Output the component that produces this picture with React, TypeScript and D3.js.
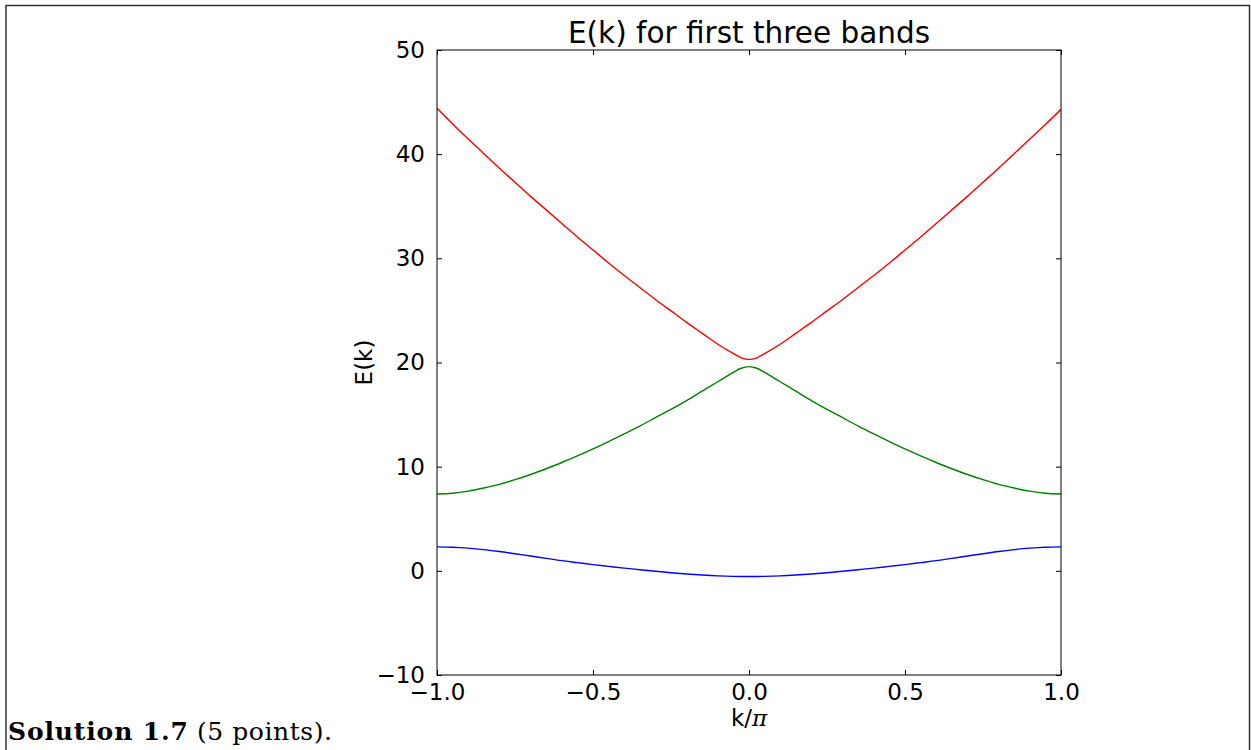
import * as d3 from "d3";
import { useEffect, useRef } from "react";

// k/pi sample positions (denser near the gap at k = 0)
const kValues = [
  -1, -0.95, -0.9, -0.85, -0.8, -0.75, -0.7, -0.65, -0.6, -0.55, -0.5,
  -0.45, -0.4, -0.35, -0.3, -0.25, -0.2, -0.15, -0.1, -0.05, -0.025, 0,
  0.025, 0.05, 0.1, 0.15, 0.2, 0.25, 0.3, 0.35, 0.4, 0.45, 0.5,
  0.55, 0.6, 0.65, 0.7, 0.75, 0.8, 0.85, 0.9, 0.95, 1,
];

// first band (blue)
const band1 = [
  2.3, 2.27, 2.18, 2.04, 1.86, 1.64, 1.42, 1.2, 0.98, 0.79, 0.6,
  0.43, 0.26, 0.11, -0.04, -0.18, -0.3, -0.4, -0.48, -0.53, -0.545, -0.55,
  -0.545, -0.53, -0.48, -0.4, -0.3, -0.18, -0.04, 0.11, 0.26, 0.43, 0.6,
  0.79, 0.98, 1.2, 1.42, 1.64, 1.86, 2.04, 2.18, 2.27, 2.3,
];

// second band (green)
const band2 = [
  7.38, 7.45, 7.65, 7.95, 8.3, 8.75, 9.25, 9.8, 10.4, 11.03, 11.7,
  12.4, 13.15, 13.9, 14.7, 15.5, 16.35, 17.25, 18.15, 19.05, 19.45, 19.6,
  19.45, 19.05, 18.15, 17.25, 16.35, 15.5, 14.7, 13.9, 13.15, 12.4, 11.7,
  11.03, 10.4, 9.8, 9.25, 8.75, 8.3, 7.95, 7.65, 7.45, 7.38,
];

// third band (red)
const band3 = [
  44.4, 42.9, 41.45, 40.05, 38.65, 37.3, 35.95, 34.65, 33.35, 32.05, 30.8,
  29.55, 28.35, 27.2, 26.05, 24.95, 23.85, 22.8, 21.75, 20.85, 20.45, 20.3,
  20.45, 20.85, 21.75, 22.8, 23.85, 24.95, 26.05, 27.2, 28.35, 29.55, 30.8,
  32.05, 33.35, 34.65, 35.95, 37.3, 38.65, 40.05, 41.45, 42.85, 44.3,
];

const bandColors = ["#0000ff", "#008000", "#ff0000"];
const xTicks = [-1, -0.5, 0, 0.5, 1];
const yTicks = [-10, 0, 10, 20, 30, 40, 50];

const W = 1251;
const H = 750;

const App = () => {
  const ref = useRef<SVGSVGElement>(null);

  useEffect(() => {
    const margin = { top: 50, right: 190, bottom: 75, left: 437 };
    const width = W - margin.left - margin.right;
    const height = H - margin.top - margin.bottom;

    const svg = d3.select(ref.current);
    svg.selectAll("*").remove();

    // page frame
    svg
      .append("path")
      .attr("d", `M6,${H + 2}V5.5H1249.5V${H + 2}`)
      .attr("fill", "none")
      .attr("stroke", "#333")
      .attr("stroke-width", 1.5);

    const g = svg.append("g").attr("transform", `translate(${margin.left},${margin.top})`);

    const x = d3.scaleLinear().domain([-1, 1]).range([0, width]);
    const y = d3.scaleLinear().domain([-10, 50]).range([height, 0]);

    const font = "'DejaVu Sans', sans-serif";

    // bands
    const bands = [band1, band2, band3];
    bands.forEach((band, i) => {
      const line = d3
        .line<number>()
        .x((_, j) => x(kValues[j]))
        .y((d) => y(d))
        .curve(d3.curveMonotoneX);
      g.append("path")
        .attr("d", line(band))
        .attr("fill", "none")
        .attr("stroke", bandColors[i])
        .attr("stroke-width", 1.4);
    });

    // axes with inward ticks
    const styleAxis = (sel: any) => {
      sel.select(".domain").remove();
      sel.selectAll(".tick line").attr("stroke", "#000").attr("stroke-width", 1);
      sel.selectAll("text").attr("font-family", font).attr("font-size", 23).attr("fill", "#000");
    };

    g.append("g")
      .attr("transform", `translate(0,${height})`)
      .call(d3.axisBottom(x).tickValues(xTicks).tickFormat(d3.format(".1f")).tickSize(-5).tickPadding(9))
      .call(styleAxis);
    g.append("g")
      .call(d3.axisTop(x).tickValues(xTicks).tickFormat(() => "").tickSize(-5))
      .call(styleAxis);
    g.append("g")
      .call(d3.axisLeft(y).tickValues(yTicks).tickFormat(d3.format("d")).tickSize(-5).tickPadding(12))
      .call(styleAxis);
    g.append("g")
      .attr("transform", `translate(${width},0)`)
      .call(d3.axisRight(y).tickValues(yTicks).tickFormat(() => "").tickSize(-5))
      .call(styleAxis);

    // plot frame
    g.append("rect")
      .attr("width", width)
      .attr("height", height)
      .attr("fill", "none")
      .attr("stroke", "#000")
      .attr("stroke-width", 1);

    // title
    g.append("text")
      .attr("x", width / 2)
      .attr("y", -7)
      .attr("text-anchor", "middle")
      .attr("font-family", font)
      .attr("font-size", 29.5)
      .text("E(k) for first three bands");

    // y label
    g.append("text")
      .attr("transform", `translate(-65,${height / 2}) rotate(-90)`)
      .attr("text-anchor", "middle")
      .attr("font-family", font)
      .attr("font-size", 23)
      .text("E(k)");

    // x label
    const xl = g
      .append("text")
      .attr("x", width / 2)
      .attr("y", height + 51)
      .attr("text-anchor", "middle")
      .attr("font-family", font)
      .attr("font-size", 23);
    xl.append("tspan").text("k/");
    xl.append("tspan")
      .attr("font-family", "'DejaVu Serif', serif")
      .attr("font-style", "italic")
      .text("π");

    // caption below the figure
    const capFont = "'DejaVu Serif', serif";
    svg
      .append("text")
      .attr("x", 8)
      .attr("y", 740)
      .attr("font-family", capFont)
      .attr("font-size", 25)
      .attr("font-weight", "bold")
      .attr("textLength", 180)
      .attr("lengthAdjust", "spacing")
      .text("Solution 1.7");
    svg
      .append("text")
      .attr("x", 197)
      .attr("y", 740)
      .attr("font-family", capFont)
      .attr("font-size", 25)
      .attr("textLength", 135)
      .attr("lengthAdjust", "spacing")
      .text("(5 points).");
  }, []);

  return (
    <svg
      ref={ref}
      width={W}
      height={H}
      style={{ position: "absolute", left: 0, top: 0, background: "#fff" }}
    />
  );
};

export default App;
